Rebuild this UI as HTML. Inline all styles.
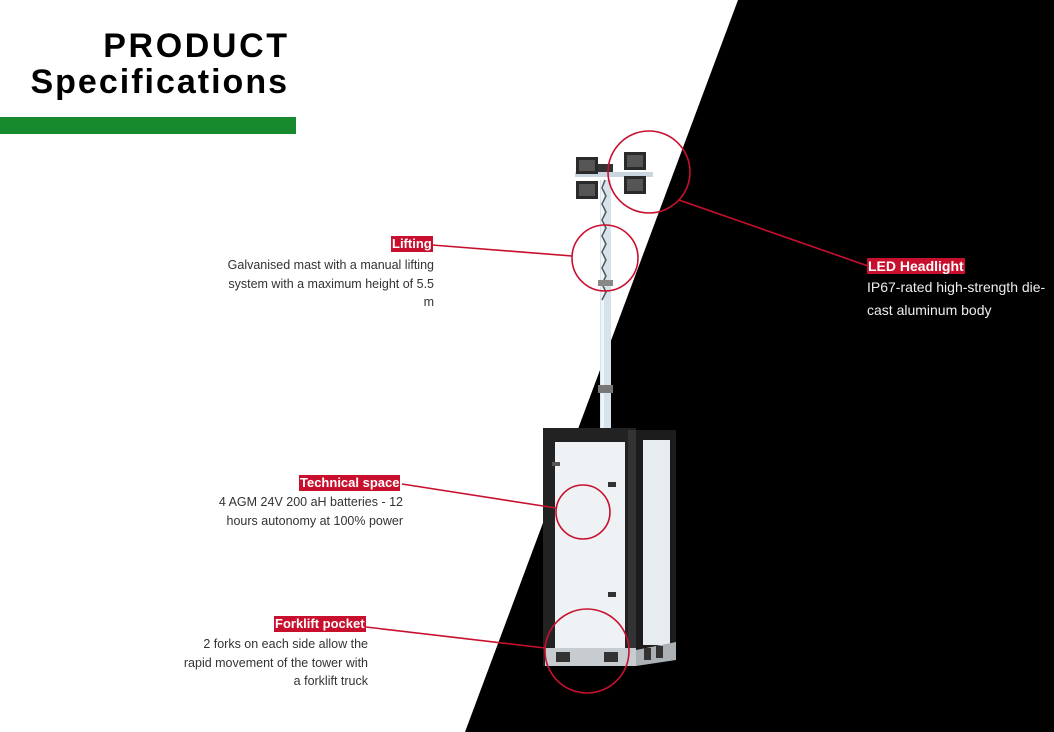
<!DOCTYPE html>
<html><head><meta charset="utf-8"><style>
*{margin:0;padding:0;box-sizing:border-box}
body{width:1054px;height:732px;position:relative;overflow:hidden;background:#fff;font-family:"Liberation Sans",sans-serif}
svg{position:absolute;left:0;top:0}
.t{position:absolute;font-weight:bold;color:#000;text-align:right;font-size:34px;line-height:36px;white-space:nowrap}
.lab{position:absolute;background:#c8102e;color:#fff;font-weight:bold;font-size:13px;line-height:16px;padding:0 1px;white-space:nowrap}
.d{position:absolute;font-size:12.5px;line-height:18.5px;color:#333;text-align:right}
</style></head><body>
<svg width="1054" height="732" viewBox="0 0 1054 732">
<polygon points="738,0 1054,0 1054,732 465,732" fill="#000"/>
<rect x="0" y="117" width="296" height="17" fill="#178a2d"/>
<rect x="600" y="180" width="11" height="250" fill="#d5e3ec"/>
<rect x="601" y="180" width="3" height="250" fill="#eef4f8"/>
<path d="M605 180 l-3 8 l4 8 l-4 8 l4 8 l-4 8 l4 8 l-4 8 l4 8 l-4 8 l4 8 l-4 8 l4 8 l-4 8 l4 8 l-4 8" stroke="#555" stroke-width="1.5" fill="none"/>
<rect x="598" y="280" width="15" height="6" fill="#888"/>
<rect x="598" y="385" width="15" height="8" fill="#777"/>
<rect x="575" y="172" width="78" height="5" fill="#c9d6df"/>
<rect x="598" y="164" width="15" height="8" fill="#333"/>
<rect x="576" y="157" width="22" height="17" fill="#2a2a2a"/><rect x="579" y="160" width="16" height="11" fill="#555"/>
<rect x="576" y="181" width="22" height="18" fill="#2a2a2a"/><rect x="579" y="184" width="16" height="12" fill="#555"/>
<rect x="624" y="152" width="22" height="18" fill="#2a2a2a"/><rect x="627" y="155" width="16" height="12" fill="#555"/>
<rect x="624" y="176" width="22" height="18" fill="#2a2a2a"/><rect x="627" y="179" width="16" height="12" fill="#555"/>
<rect x="543" y="428" width="93" height="238" fill="#222"/>
<rect x="555" y="442" width="70" height="208" fill="#eef2f5"/>
<rect x="636" y="430" width="40" height="226" fill="#1c1c1c"/>
<rect x="643" y="440" width="27" height="205" fill="#e6ecf0"/>
<rect x="628" y="430" width="8" height="230" fill="#333"/>
<polygon points="545,648 636,648 636,666 545,666" fill="#c7ccd0"/>
<rect x="556" y="652" width="14" height="10" fill="#333"/><rect x="604" y="652" width="14" height="10" fill="#333"/>
<polygon points="636,650 676,642 676,660 636,666" fill="#aab0b4"/>
<rect x="644" y="648" width="7" height="12" fill="#333"/><rect x="656" y="646" width="7" height="12" fill="#333"/>
<rect x="552" y="462" width="8" height="4" fill="#555"/><rect x="608" y="482" width="8" height="5" fill="#333"/><rect x="608" y="592" width="8" height="5" fill="#333"/>
<g stroke="#c8102e" stroke-width="1.6" fill="none">
<circle cx="605" cy="258" r="33"/>
<circle cx="649" cy="172" r="41"/>
<circle cx="583" cy="512" r="27"/>
<circle cx="587" cy="651" r="42"/>
<line x1="432" y1="245" x2="572" y2="256"/>
<line x1="679" y1="200" x2="868" y2="266"/>
<line x1="402" y1="484" x2="556" y2="508"/>
<line x1="366" y1="627" x2="545" y2="648"/>
</g>
</svg>
<div class="t" style="right:767px;top:28px;letter-spacing:2.6px;margin-right:-2.6px">PRODUCT</div>
<div class="t" style="right:767px;top:64px;letter-spacing:2px;margin-right:-2px">Specifications</div>

<div class="lab" style="left:391px;top:236px">Lifting</div>
<div class="d" style="left:200px;width:234px;top:256px">Galvanised mast with a manual lifting<br>system with a maximum height of 5.5<br>m</div>

<div class="lab" style="left:867px;top:258px;font-size:14px">LED Headlight</div>
<div class="d" style="left:867px;width:190px;top:276px;color:#eee;text-align:left;font-size:14px;line-height:22.5px">IP67-rated high-strength die-<br>cast aluminum body</div>

<div class="lab" style="left:299px;top:475px">Technical space</div>
<div class="d" style="left:180px;width:223px;top:493px">4 AGM 24V 200 aH batteries - 12<br>hours autonomy at 100% power</div>

<div class="lab" style="left:274px;top:616px">Forklift pocket</div>
<div class="d" style="left:140px;width:228px;top:635px">2 forks on each side allow the<br>rapid movement of the tower with<br>a forklift truck</div>
</body></html>
